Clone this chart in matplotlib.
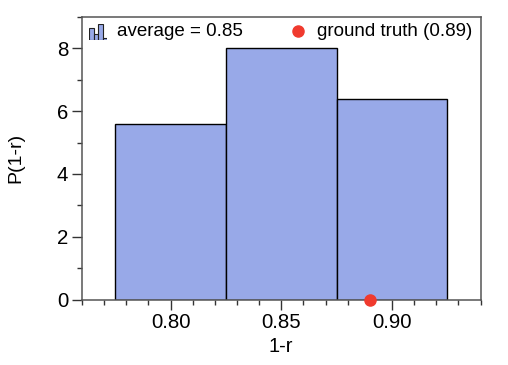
import matplotlib; matplotlib.use('Agg')
import matplotlib.pyplot as plt
from matplotlib.ticker import MultipleLocator
plt.rcParams['font.family'] = ['Liberation Sans', 'DejaVu Sans']

bin_centers = [0.80, 0.85, 0.90]
bin_heights = [5.6, 8.0, 6.4]
bin_width = 0.05
truth_x = [0.89]
truth_y = [0.0]
icon_heights = [0.75, 0.39, 1.0, 0.14]

W, H = 508, 365
BAR = '#98a9e8'
SPINE = '#555555'

fig = plt.figure(figsize=(W / 100, H / 100), dpi=100)
ax = fig.add_axes([82 / W, 1 - 299.5 / H, (480.5 - 82) / W, (299.5 - 17) / H])

ax.bar(bin_centers, bin_heights, bin_width, color=BAR, edgecolor='black', linewidth=1.0)
ax.plot(truth_x, truth_y, 'o', color='#f03a2e', markersize=8, clip_on=False, zorder=5)

ax.set_xlim(0.76, 0.94)
ax.set_ylim(0, 9)
ax.set_xticks(bin_centers)
ax.set_xticklabels(['0.80', '0.85', '0.90'])
ax.xaxis.set_minor_locator(MultipleLocator(0.01))
ax.yaxis.set_major_locator(MultipleLocator(2))
ax.yaxis.set_minor_locator(MultipleLocator(1))
ax.tick_params(which='major', length=7, width=1, color='#333333', labelsize=14.7, pad=3)
ax.tick_params(which='minor', length=3.5, width=1, color='#333333')
for s in ax.spines.values():
    s.set_color(SPINE)
    s.set_linewidth(1.1)
ax.set_xlabel('1-r', fontsize=14.5, labelpad=3.5)
ax.set_ylabel('P(1-r)', fontsize=14, labelpad=23)

# legend row, histogram icon + text
icon = ax.inset_axes([(89 - 82) / 398.5, (299.5 - 40.3) / 282.5, 18.4 / 398.5, 16.3 / 282.5])
icon.bar(range(len(icon_heights)), icon_heights, 1.0, color=BAR, edgecolor='#222222', linewidth=0.8)
icon.set_xlim(-0.5, 3.5)
icon.set_ylim(0, 1)
icon.axis('off')

ax.text((117 - 82) / 398.5, (299.5 - 31.5) / 282.5, 'average = 0.85', transform=ax.transAxes,
        fontsize=13.5, va='center', ha='left')
ax.plot([(298 - 82) / 398.5], [(299.5 - 30.5) / 282.5], 'o', color='#f03a2e', markersize=8,
        transform=ax.transAxes)
ax.text((317 - 82) / 398.5, (299.5 - 31.5) / 282.5, 'ground truth (0.89)', transform=ax.transAxes,
        fontsize=13.5, va='center', ha='left')

fig.savefig('out.png', dpi=100)
